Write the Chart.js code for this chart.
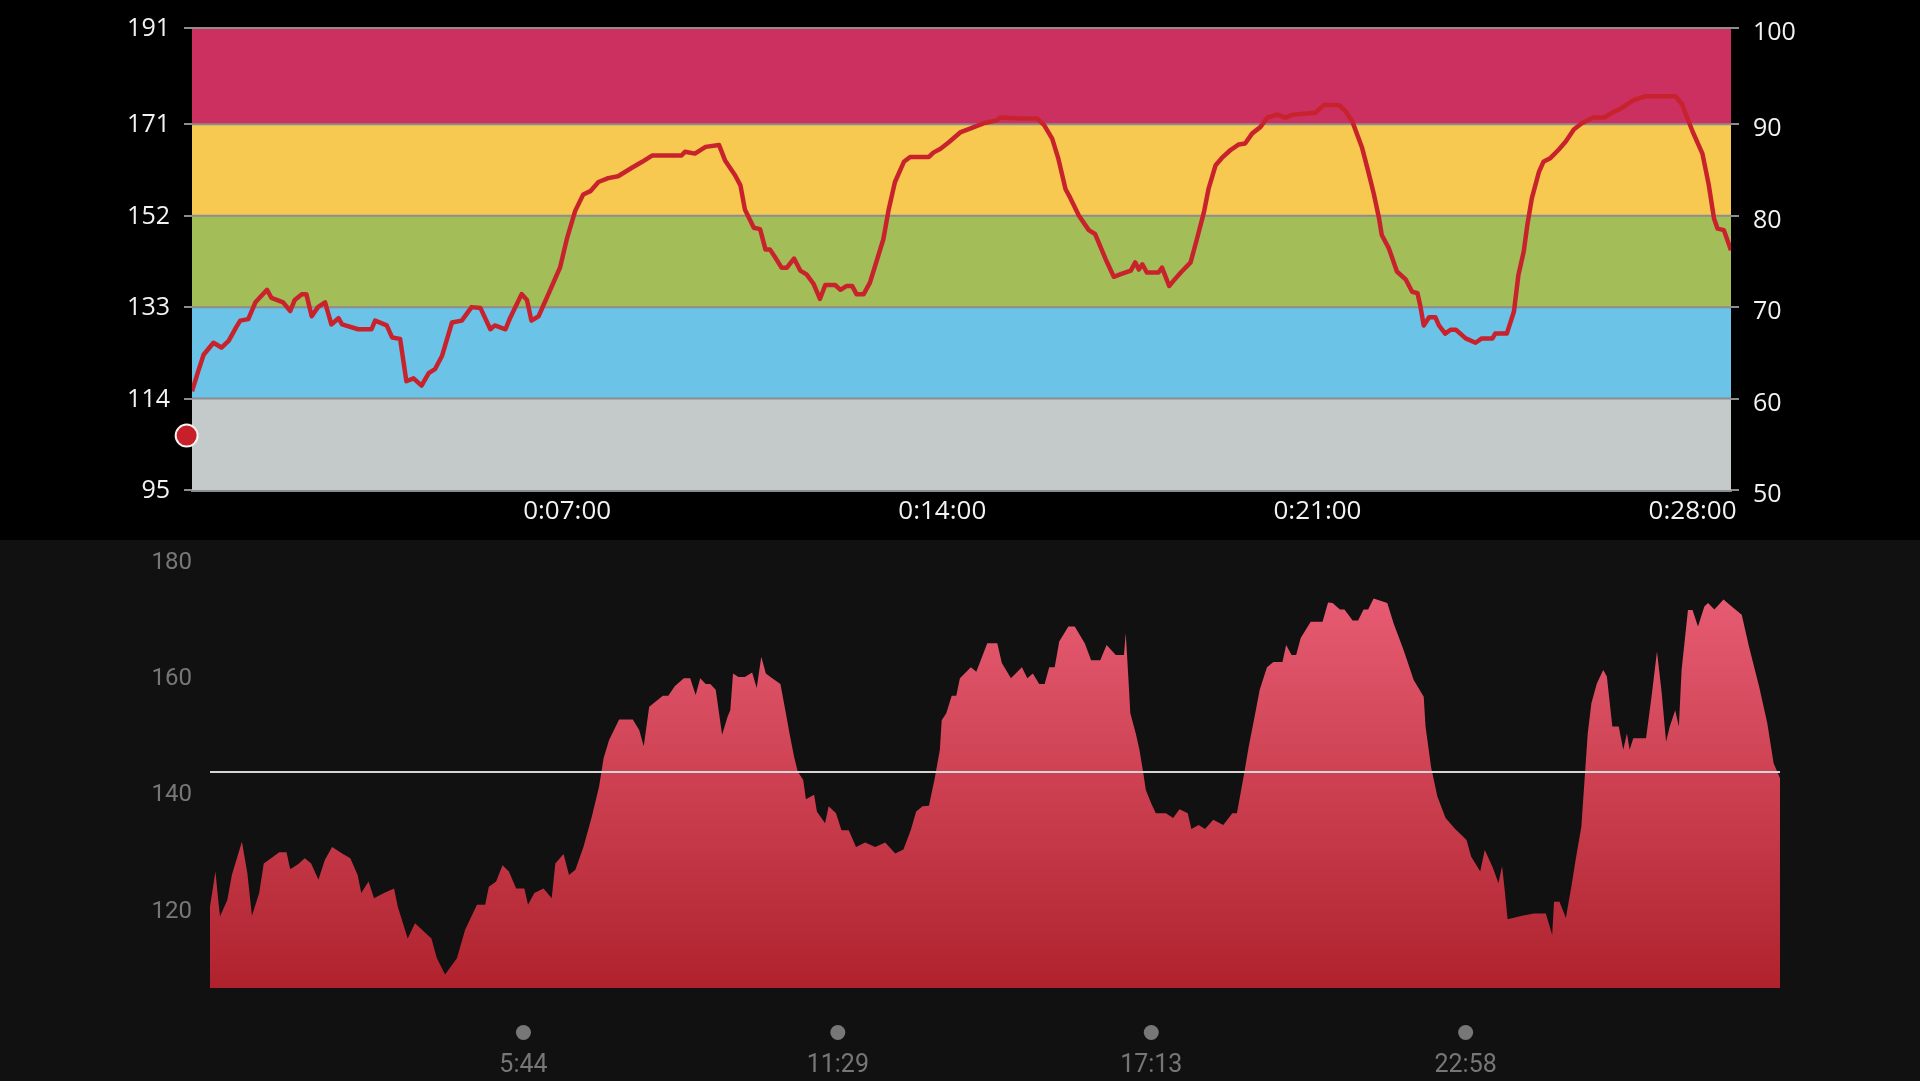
<!DOCTYPE html>
<html>
<head>
<meta charset="utf-8">
<script src="https://cdn.jsdelivr.net/npm/chart.js@4.4.1/dist/chart.umd.min.js"></script>
<style>
  html, body { margin: 0; padding: 0; background: #000; }
  canvas { display: block; }
  #zones { background: #000; }
  #raw { background: #111; }
</style>
</head>
<body>
<canvas id="zones" width="1920" height="540"></canvas>
<canvas id="raw" width="1920" height="541"></canvas>
<script>
// workout length in seconds (both charts share it)
const durationSec = 1723;

// top chart: heart-rate zones (bpm edges and their % of max HR)
const zoneBpm = [95, 114, 133, 152, 171, 191];
const zonePct = [50, 60, 70, 80, 90, 100];
const zoneColors = ['#c4c9ca', '#6bc3e8', '#a3bd59', '#f7c951', '#cb3060'];
const topTickSec = [420, 840, 1260, 1680];

const topSec = [0,7,13,24,33,41,50,54,63,71,84,89,102,110,115,123,128,134,141,149,
  156,164,168,186,201,205,218,224,233,240,248,257,265,272,280,291,302,313,323,334,
  339,351,356,369,375,380,388,399,407,412,420,429,438,446,455,466,477,492,504,515,
  548,552,563,575,
  590,597,608,614,619,629,636,642,647,653,660,666,674,681,688,696,703,709,720,726,
  733,739,744,752,759,767,774,780,787,797,804,825,830,838,847,860,871,886,901,905,
  927,946,954,963,970,978,983,993,1004,1011,1023,1032,1039,1051,1056,1060,1064,1069,1082,1086,
  1094,1099,1107,1118,1125,1133,1138,
  1146,1153,1163,1172,1179,1187,1196,1204,1215,1224,1233,1258,1267,1284,1291,1299,1310,1317,1323,1329,
  1332,1340,1349,1359,1366,1372,1375,1379,1385,1392,1396,1403,1409,1415,1426,1437,1444,1456,1459,1472,
  1480,1485,1491,1495,1500,1508,1513,1521,1530,1538,1547,1556,1569,1581,1590,1599,1614,1627,1661,1668,
  1680,1691,1698,1704,1708,1715,1723];
const topBpm = [115.5,119.7,123.1,125.6,124.6,126.0,129.0,130.2,130.5,134.0,136.6,134.9,134.0,132.2,134.5,135.7,135.7,131.1,133.0,134.0,
  129.4,130.7,129.4,128.4,128.4,130.2,129.2,126.7,126.4,117.6,118.2,116.7,119.3,120.1,122.9,129.8,130.2,133.0,132.8,128.4,
  129.2,128.4,130.7,135.7,134.5,130.2,131.1,135.7,139.1,141.2,147.4,153.0,156.4,157.1,159.0,159.8,160.2,161.9,163.2,164.5,
  164.5,165.3,164.9,166.3,
  166.7,163.4,160.4,158.3,153.3,149.5,149.2,145.0,145.0,143.3,141.2,141.2,143.1,140.6,139.8,137.8,134.7,137.6,137.6,136.6,
  137.4,137.4,135.7,135.7,138.1,142.9,147.1,153.3,159.0,163.2,164.2,164.2,165.1,165.9,167.2,169.3,170.1,171.2,171.8,172.4,
  172.2,172.2,170.8,168.0,163.8,157.5,155.8,152.0,149.0,148.2,142.9,139.3,139.8,140.6,142.3,140.8,141.9,140.2,140.2,141.2,
  137.4,138.5,140.2,142.3,147.1,152.8,157.5,
  162.5,164.0,165.7,166.8,167.0,169.1,170.4,172.4,173.0,172.4,173.0,173.4,175.0,175.0,173.8,171.6,166.1,161.1,156.6,151.4,
  148.0,145.2,140.4,138.7,136.2,135.9,133.4,129.2,130.9,130.9,129.2,127.5,128.3,128.3,126.5,125.6,126.5,126.5,127.5,127.5,
  132.1,139.7,144.6,150.1,155.6,161.1,163.2,164.0,165.7,167.4,169.9,171.2,172.4,172.4,173.4,174.2,176.0,176.8,176.8,175.2,
  169.5,164.9,158.5,151.4,149.3,149.0,144.8];

// position marker at the start of the track
const markerSec = [-6];
const markerBpm = [106.3];

// bottom chart: raw heart rate in bpm
const bottomTickSec = [344, 689, 1033, 1378];
const bottomYTicks = [120, 140, 160, 180];
const avgHr = 143.6;

const rawSec = [0,6,9,11,19,24,35,41,46,54,59,67,76,84,88,97,104,111,119,126,
  134,145,154,162,166,174,180,191,202,206,217,225,243,249,258,271,280,293,302,306,
  314,321,328,336,345,349,356,366,375,379,388,394,401,410,419,427,432,438,449,464,
  471,476,482,497,503,510,520,527,533,538,544,549,555,562,568,
  571,574,580,587,595,600,605,610,617,626,632,636,641,645,651,654,663,666,675,679,
  687,693,701,709,719,730,741,752,761,769,775,782,789,795,801,803,808,814,819,823,
  835,841,853,864,869,879,891,897,903,910,916,921,927,932,942,949,960,967,977,984,
  994,1003,1005,1008,1010,1016,1020,1024,1027,1033,1038,1049,1057,1064,1073,1077,1085,1092,1101,1112,
  1122,1127,1135,1140,1146,
  1152,1160,1167,1177,1181,1187,1192,1197,1208,1221,1227,1232,1240,1245,1254,1260,1266,1271,1277,1292,
  1299,1310,1321,1332,1334,1340,1347,1356,1366,1379,1384,1394,1399,1408,1414,1418,1421,1424,1440,1453,
  1466,1473,1475,1481,1488,1494,1499,1505,1509,1512,1516,1522,1529,1533,1539,1546,1551,1555,1558,1562,
  1576,1582,1588,1593,1598,1602,1608,1612,1615,1622,1627,1633,1640,1644,1651,1661,1670,1681,1689,1700,
  1709,1716,1723];
const rawBpm = [120.5,126.5,121.6,118.8,121.6,125.9,131.6,126.2,118.9,122.8,127.9,128.8,129.8,129.8,126.9,127.8,128.8,127.9,125.1,128.5,
  130.7,129.6,128.8,125.9,122.8,124.8,121.9,122.8,123.6,120.5,115.0,117.6,115.0,111.6,108.8,111.6,116.5,120.8,120.8,123.9,
  124.8,127.6,126.5,123.6,123.6,120.8,122.8,123.6,121.9,127.9,129.5,125.9,126.8,130.8,135.9,141.1,146.0,149.1,152.6,152.6,
  150.8,148.0,154.8,156.7,156.7,158.3,159.7,159.7,156.8,159.7,158.7,158.7,157.7,150.0,153.1,
  154.2,160.5,159.9,159.9,160.7,158.0,163.4,160.5,159.7,158.7,153.7,150.2,146.2,143.7,142.2,138.9,139.7,136.8,134.8,137.7,
  136.5,133.6,133.6,130.7,131.5,130.7,131.5,129.6,130.3,133.6,136.8,137.7,137.8,142.2,147.4,152.5,153.7,156.7,156.7,159.7,
  161.6,160.8,165.7,165.7,162.3,159.7,161.6,159.7,160.5,158.7,158.7,161.6,161.6,166.0,168.6,168.6,165.7,162.8,162.8,165.4,
  163.7,163.7,167.4,159.4,153.7,150.2,147.4,143.7,140.5,138.2,136.5,136.5,135.7,137.2,136.5,133.8,134.5,133.8,135.4,134.5,
  136.5,136.5,143.4,148.0,152.8,
  157.7,161.6,162.5,162.5,165.4,163.7,163.7,166.6,169.4,169.4,172.7,172.6,171.5,171.5,169.6,169.6,171.5,171.5,173.4,172.6,
  169.1,164.5,159.4,156.5,151.4,144.5,139.4,135.7,133.9,131.9,129.1,126.5,130.2,127.1,124.5,127.4,123.1,118.3,118.9,119.3,
  119.3,115.6,121.3,121.3,118.5,123.9,128.8,134.2,143.4,150.2,155.4,158.8,161.1,160.0,151.4,151.4,147.4,150.2,147.4,149.4,
  149.4,156.5,164.3,157.4,148.8,151.4,154.2,151.4,161.1,171.4,171.4,168.6,172.0,172.6,171.5,173.2,172.0,170.6,165.1,158.3,
  152.0,145.1,142.5];

function fmtHms(v) {
  const h = Math.floor(v / 3600), m = Math.floor(v % 3600 / 60), s = v % 60;
  return h + ':' + String(m).padStart(2, '0') + ':' + String(s).padStart(2, '0');
}
function fmtMs(v) {
  return Math.floor(v / 60) + ':' + String(v % 60).padStart(2, '0');
}

Chart.defaults.animation = false;
Chart.defaults.plugins.legend.display = false;
Chart.defaults.plugins.tooltip.enabled = false;

// ---- top: zones chart ----
const bandSets = zoneColors.map((c, i) => ({
  data: [{x: 0, y: zoneBpm[i + 1]}, {x: durationSec, y: zoneBpm[i + 1]}],
  fill: {value: zoneBpm[i]},
  backgroundColor: c,
  borderColor: '#8d8d8d',
  borderWidth: 2,
  pointRadius: 0,
  order: 10,
  clip: false
}));

const axisFont = {family: 'Open Sans', size: 25};
const zoneTicks = s => { s.ticks = zoneBpm.map(v => ({value: v})); };

new Chart(document.getElementById('zones'), {
  type: 'line',
  data: {
    datasets: [
      ...bandSets,
      {
        data: topSec.map((t, i) => ({x: t, y: topBpm[i]})),
        borderColor: '#c8232d',
        borderWidth: 4.5,
        borderJoinStyle: 'round',
        pointRadius: 0,
        fill: false,
        order: 1
      },
      {
        data: markerSec.map((t, i) => ({x: t, y: markerBpm[i]})),
        showLine: false,
        pointRadius: 11,
        pointBackgroundColor: '#c8202a',
        pointBorderColor: '#f4f4f4',
        pointBorderWidth: 2,
        clip: false,
        order: 0
      }
    ]
  },
  options: {
    responsive: false,
    devicePixelRatio: 1,
    layout: {padding: {top: 28, left: 0, right: 0, bottom: 0}},
    scales: {
      x: {
        type: 'linear', min: 0, max: durationSec, z: 1,
        afterBuildTicks: s => { s.ticks = topTickSec.map(v => ({value: v})); },
        afterFit: s => { s.height = 50; },
        ticks: {callback: v => fmtHms(v), color: '#f2f2f2', font: {family: 'Open Sans', size: 26},
                padding: 6, maxRotation: 0, autoSkip: false},
        grid: {drawOnChartArea: false, drawTicks: false},
        border: {display: true, color: '#8d8d8d', width: 3}
      },
      y: {
        position: 'left', min: zoneBpm[0], max: zoneBpm[zoneBpm.length - 1],
        afterBuildTicks: zoneTicks,
        afterFit: s => { s.width = 192; s.paddingTop = 4; s.paddingBottom = 4; },
        ticks: {color: '#f2f2f2', font: axisFont, padding: 14, labelOffset: 1},
        grid: {drawOnChartArea: false, color: '#8d8d8d', lineWidth: 2, tickLength: 8},
        border: {display: false}
      },
      y2: {
        position: 'right', min: zoneBpm[0], max: zoneBpm[zoneBpm.length - 1],
        afterBuildTicks: zoneTicks,
        afterFit: s => { s.width = 189; s.paddingTop = 4; s.paddingBottom = 4; },
        ticks: {callback: v => zonePct[zoneBpm.indexOf(v)], color: '#f2f2f2', font: axisFont,
                padding: 14, labelOffset: 5},
        grid: {drawOnChartArea: false, color: '#8d8d8d', lineWidth: 2, tickLength: 8},
        border: {display: false}
      }
    }
  }
});

// ---- bottom: raw heart-rate area ----
const tickDots = {
  id: 'tickDots',
  afterDraw(chart) {
    const xs = chart.scales.x, ctx = chart.ctx;
    ctx.save();
    ctx.fillStyle = '#777';
    xs.ticks.forEach(t => {
      ctx.beginPath();
      ctx.arc(xs.getPixelForValue(t.value), chart.chartArea.bottom + 44.5, 7.5, 0, Math.PI * 2);
      ctx.fill();
    });
    ctx.restore();
  }
};

new Chart(document.getElementById('raw'), {
  type: 'line',
  data: {
    datasets: [
      {
        data: rawSec.map((t, i) => ({x: t, y: rawBpm[i]})),
        fill: 'start',
        borderWidth: 0,
        pointRadius: 0,
        backgroundColor: ctx => {
          const area = ctx.chart.chartArea;
          if (!area) return '#c83a48';
          const g = ctx.chart.ctx.createLinearGradient(0, area.top, 0, area.bottom);
          g.addColorStop(0, '#ec6179');
          g.addColorStop(1, '#af222d');
          return g;
        },
        order: 2
      },
      {
        data: [{x: 0, y: avgHr}, {x: durationSec, y: avgHr}],
        borderColor: '#d6d6d6',
        borderWidth: 2,
        pointRadius: 0,
        fill: false,
        order: 1
      }
    ]
  },
  options: {
    responsive: false,
    devicePixelRatio: 1,
    layout: {padding: {top: 20, left: 0, right: 140, bottom: 0}},
    scales: {
      x: {
        type: 'linear', min: 0, max: durationSec,
        afterBuildTicks: s => { s.ticks = bottomTickSec.map(v => ({value: v})); },
        afterFit: s => { s.height = 93; },
        ticks: {callback: v => fmtMs(v), color: '#767676', font: {family: 'Roboto', size: 25},
                padding: 63, maxRotation: 0, autoSkip: false},
        grid: {display: false, drawTicks: false},
        border: {display: false}
      },
      y: {
        min: 106.5, max: 180,
        afterBuildTicks: s => { s.ticks = bottomYTicks.map(v => ({value: v})); },
        afterFit: s => { s.width = 210; s.paddingTop = 4; s.paddingBottom = 4; },
        ticks: {color: '#777', font: {family: 'Roboto', size: 24}, padding: 18, labelOffset: 2.5},
        grid: {display: false, drawTicks: false},
        border: {display: false}
      }
    }
  },
  plugins: [tickDots]
});
</script>
</body>
</html>
